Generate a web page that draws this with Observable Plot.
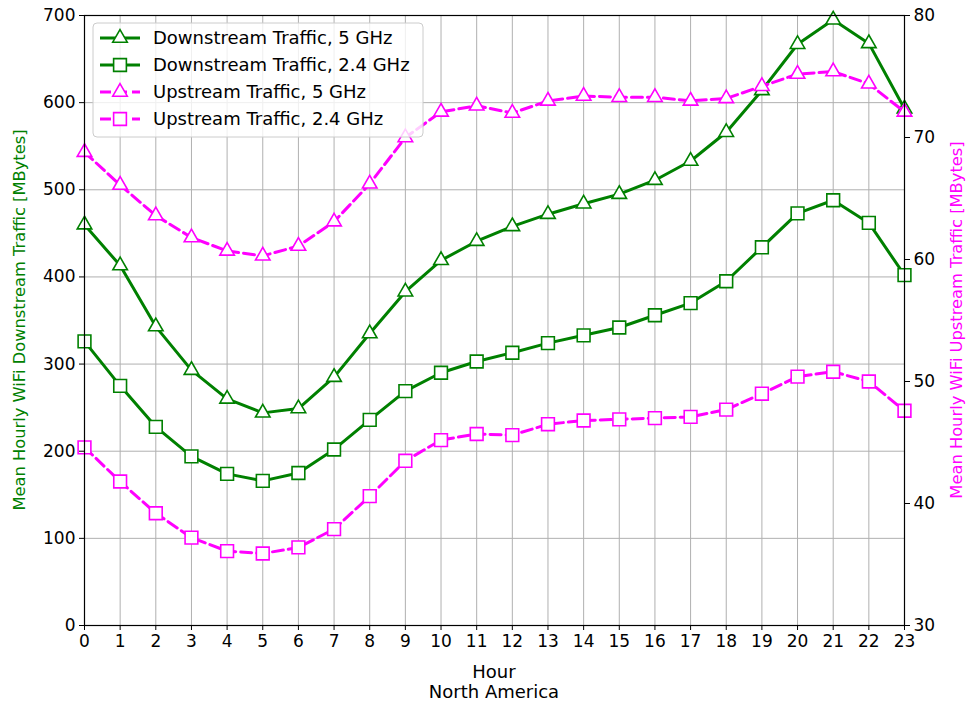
<!DOCTYPE html>
<html>
<head>
<meta charset="utf-8">
<script src="https://cdn.jsdelivr.net/npm/d3@7"></script>
<script src="https://cdn.jsdelivr.net/npm/@observablehq/plot@0.6"></script>
<style>
  html, body { margin: 0; padding: 0; background: #fff; }
  #chart { width: 969px; height: 704px; }
  svg { font-family: "DejaVu Sans", sans-serif; }
</style>
</head>
<body>
<div id="chart"></div>
<script>
// ---- data ----
const hours = [0,1,2,3,4,5,6,7,8,9,10,11,12,13,14,15,16,17,18,19,20,21,22,23];
const down5 = [460,413,343,293,260,244,249,285,335,383,419,441,458,472,484,495,511,533,566,614,667,695,668,593];
const down24 = [326,275,228,194,174,166,175,202,236,269,290,303,313,324,333,342,356,370,395,434,473,488,462,402];
const up5 = [68.8,66.1,63.6,61.8,60.7,60.3,61.1,63.1,66.2,70.0,72.1,72.6,72.0,73.0,73.4,73.3,73.3,73.0,73.2,74.2,75.2,75.4,74.4,72.1];
const up24 = [44.6,41.8,39.2,37.2,36.1,35.9,36.4,37.9,40.6,43.5,45.2,45.7,45.6,46.5,46.8,46.9,47.0,47.1,47.7,49.0,50.4,50.8,50.0,47.6];
const leftTicks = [0,100,200,300,400,500,600,700];
const rightTicks = [30,40,50,60,70,80];
const seriesNames = ["Downstream Traffic, 5 GHz","Downstream Traffic, 2.4 GHz","Upstream Traffic, 5 GHz","Upstream Traffic, 2.4 GHz"];

// right axis [30,80] mapped onto left axis [0,700]
const R0 = 30, R1 = 80, L0 = 0, L1 = 700;
const toLeft = v => L0 + (v - R0) * (L1 - L0) / (R1 - R0);
const toRight = v => R0 + (v - L0) * (R1 - R0) / (L1 - L0);

const GREEN = "#008000", MAG = "#ff00ff";
const series = [
  {name: seriesNames[0], vals: down5, conv: v => v, color: GREEN, symbol: "triangle", dash: null},
  {name: seriesNames[1], vals: down24, conv: v => v, color: GREEN, symbol: "square", dash: null},
  {name: seriesNames[2], vals: up5, conv: toLeft, color: MAG, symbol: "triangle", dash: "11,5"},
  {name: seriesNames[3], vals: up24, conv: toLeft, color: MAG, symbol: "square", dash: "11,5"}
];
const symR = {triangle: 5.4, square: 7.2};

const seriesMarks = [];
for (const s of series) {
  const rows = hours.map((h, i) => ({h, v: s.conv(s.vals[i])}));
  seriesMarks.push(Plot.line(rows, {x: "h", y: "v", stroke: s.color, strokeWidth: 3, strokeDasharray: s.dash, strokeLinejoin: "round"}));
  seriesMarks.push(Plot.dot(rows, {x: "h", y: "v", symbol: () => s.symbol, r: symR[s.symbol], stroke: s.color, fill: "white", strokeWidth: 1.6}));
}

const W = 969, H = 704;
const mL = 84, mR = 65, mT = 15, mB = 79;

const plot = Plot.plot({
  width: W, height: H,
  marginLeft: mL, marginRight: mR, marginTop: mT, marginBottom: mB,
  style: {fontSize: "17px", fontFamily: "DejaVu Sans, sans-serif", color: "black", background: "white"},
  x: {domain: [0, 23], nice: false},
  y: {domain: [0, 700], nice: false},
  symbol: {domain: ["triangle","square"], range: ["triangle","square"]},
  marks: [
    Plot.gridX(hours, {stroke: "#b0b0b0", strokeOpacity: 1, strokeWidth: 1}),
    Plot.gridY(leftTicks, {stroke: "#b0b0b0", strokeOpacity: 1, strokeWidth: 1}),
    ...seriesMarks,
    Plot.frame({stroke: "black", strokeWidth: 1.2}),
    Plot.axisX(hours, {tickSize: 5, tickPadding: 4, label: null, tickFormat: d => String(d), fontSize: 17}),
    Plot.axisY(leftTicks, {anchor: "left", tickSize: 5, tickPadding: 4, label: null, tickFormat: d => String(d), fontSize: 17}),
    Plot.axisY(rightTicks.map(toLeft), {anchor: "right", tickSize: 5, tickPadding: 4, label: null, tickFormat: d => String(Math.round(toRight(d))), fontSize: 17})
  ]
});

document.getElementById("chart").appendChild(plot);

// ---- labels & legend (added to the Plot SVG) ----
const svg = d3.select(plot);
const cx = mL + (W - mL - mR) / 2;
const cy = mT + (H - mT - mB) / 2;

svg.append("text").attr("x", cx).attr("y", 678).attr("text-anchor", "middle")
  .attr("font-size", 18).attr("fill", "black").text("Hour");
svg.append("text").attr("x", cx).attr("y", 698).attr("text-anchor", "middle")
  .attr("font-size", 18).attr("fill", "black").text("North America");
svg.append("text").attr("transform", `translate(25,${cy}) rotate(-90)`).attr("text-anchor", "middle")
  .attr("font-size", 16.3).attr("fill", GREEN).text("Mean Hourly WiFi Downstream Traffic [MBytes]");
svg.append("text").attr("transform", `translate(962,${cy}) rotate(-90)`).attr("text-anchor", "middle")
  .attr("font-size", 16.3).attr("fill", MAG).text("Mean Hourly WiFi Upstream Traffic [MBytes]");

const lg = svg.append("g");
lg.append("rect").attr("x", 93).attr("y", 23).attr("width", 330).attr("height", 114)
  .attr("rx", 4).attr("fill", "white").attr("fill-opacity", 0.8).attr("stroke", "#cccccc").attr("stroke-width", 1);
const rowY = [38, 65, 92, 119];
series.forEach((s, i) => {
  const y = rowY[i];
  lg.append("line").attr("x1", 100).attr("x2", 140).attr("y1", y).attr("y2", y)
    .attr("stroke", s.color).attr("stroke-width", 3).attr("stroke-dasharray", s.dash);
  const sym = s.symbol === "triangle" ? d3.symbolTriangle : d3.symbolSquare;
  const r = symR[s.symbol];
  lg.append("path").attr("d", d3.symbol(sym, r * r * Math.PI)())
    .attr("transform", `translate(120,${y})`).attr("fill", "white").attr("stroke", s.color).attr("stroke-width", 1.6);
  lg.append("text").attr("x", 153).attr("y", y + 6).attr("text-anchor", "start")
    .attr("font-size", 18).attr("fill", "black").text(s.name);
});
</script>
</body>
</html>
